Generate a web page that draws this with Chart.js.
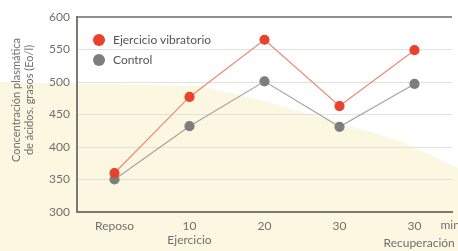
<!DOCTYPE html>
<html>
<head>
<meta charset="utf-8">
<script src="https://cdn.jsdelivr.net/npm/chart.js@4/dist/chart.umd.min.js"></script>
<style>
  html, body { margin:0; padding:0; background:#fff; overflow:hidden; }
  #wrap { position:relative; width:458px; height:251px; }
  #legend { position:absolute; left:93px; top:31px; font:12px 'Lato', sans-serif; color:#555; }
  #legend div { height:20px; line-height:18px; }
  #legend span { display:inline-block; width:12px; height:12px; border-radius:50%; vertical-align:-2px; margin-right:8px; }
</style>
</head>
<body>
<div id="wrap">
  <canvas id="chart" width="458" height="251"></canvas>
  <div id="legend">
    <div><span style="background:#e8412c"></span>Ejercicio vibratorio</div>
    <div><span style="background:#7d7d7d"></span>Control</div>
  </div>
</div>
<script>
// ---------------------------
// Data
// ---------------------------
const categories = [['Reposo',''], ['10','Ejercicio'], ['20',''], ['30',''], ['30','']];
const vibratorio = [360, 477, 565, 463, 549];
const control    = [350, 432, 501, 431, 497];
const yTicks     = [300, 350, 400, 450, 500, 550, 600];

const FONT = "'Lato', sans-serif";
const TEXT = '#6f6f6f';

// cream backdrop behind the plot
const backdrop = {
  id:'backdrop',
  beforeDraw(chart){
    const c = chart.ctx;
    c.save();
    c.fillStyle = '#fcf7e1';
    c.beginPath();
    c.moveTo(0,82); c.lineTo(200,86); c.lineTo(260,100); c.lineTo(340,123);
    c.lineTo(400,141); c.lineTo(458,168); c.lineTo(458,251); c.lineTo(0,251);
    c.closePath(); c.fill();
    c.restore();
  }
};

// axis title + extra x texts
const extras = {
  id:'extras',
  afterDraw(chart){
    const c = chart.ctx, x = chart.scales.x;
    c.save();
    c.fillStyle = TEXT;
    c.font = '12px ' + FONT;
    c.textBaseline = 'middle';
    const last = x.getPixelForValue(categories.length-1);
    c.textAlign = 'left';
    c.fillText('min', last + 26, 225);
    c.fillText('Recuperación', last - 31, 243);
    c.translate(22, 100);
    c.rotate(-Math.PI/2);
    c.textAlign = 'center';
    c.font = '11px ' + FONT;
    c.fillText('Concentración plasmática', 0, -6);
    c.fillText('de ácidos. grasos (Eo/l)', 0, 7);
    c.restore();
  }
};

new Chart(document.getElementById('chart'), {
  type:'line',
  data:{
    labels: categories,
    datasets:[
      { label:'Ejercicio vibratorio', data:vibratorio, borderColor:'#ec8a78', borderWidth:1.2,
        pointBackgroundColor:'#e8412c', pointBorderColor:'#e8412c', pointRadius:4.5, tension:0 },
      { label:'Control', data:control, borderColor:'#a3a3a3', borderWidth:1.2,
        pointBackgroundColor:'#7d7d7d', pointBorderColor:'#7d7d7d', pointRadius:4.5, tension:0 }
    ]
  },
  options:{
    responsive:false,
    animation:false,
    layout:{ padding:{ left:0, right:6, top:17, bottom:0 } },
    plugins:{ legend:{ display:false }, tooltip:{ enabled:false } },
    scales:{
      x:{
        offset:true,
        grid:{ display:false, drawTicks:false },
        border:{ color:'#7a7a74', width:2 },
        ticks:{ color:TEXT, font:{ family:FONT, size:12 }, padding:7, maxRotation:0, autoSkip:false },
        afterFit(s){ s.height = 39; }
      },
      y:{
        min:300, max:600,
        afterBuildTicks(s){ s.ticks = yTicks.map(v => ({ value:v })); },
        grid:{ drawTicks:false, color:c => c.tick && c.tick.value === 600 ? '#8f8f8f' : '#e2e2dc',
               lineWidth:c => c.tick && c.tick.value === 600 ? 2 : 1 },
        border:{ color:'#7a7a74', width:2 },
        ticks:{ color:TEXT, font:{ family:FONT, size:12 }, padding:7 },
        afterFit(s){ s.width = 77; }
      }
    }
  },
  plugins:[backdrop, extras]
});
</script>
</body>
</html>
